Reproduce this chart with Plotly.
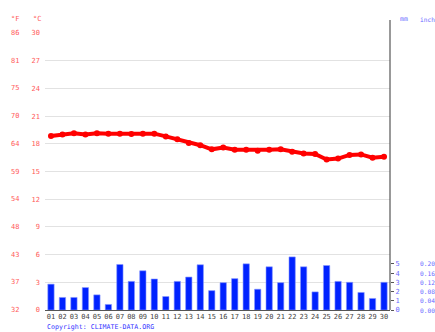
import plotly.graph_objects as go

days = [f"{d:02d}" for d in range(1, 31)]
day_num = list(range(1, 31))
temp_c = [18.85, 19.0, 19.15, 19.0, 19.15, 19.1, 19.1, 19.05, 19.1, 19.1,
          18.8, 18.5, 18.1, 17.85, 17.4, 17.6, 17.35, 17.35, 17.25, 17.35,
          17.4, 17.15, 16.95, 16.9, 16.3, 16.4, 16.8, 16.85, 16.5, 16.6]
precip_mm = [2.8, 1.36, 1.36, 2.43, 1.64, 0.6, 4.93, 3.1, 4.25, 3.36,
             1.46, 3.1, 3.57, 4.9, 2.1, 2.96, 3.4, 5.0, 2.25, 4.68,
             2.96, 5.75, 4.68, 1.96, 4.82, 3.1, 3.0, 1.9, 1.25, 3.0]
c_ticks = [0, 3, 6, 9, 12, 15, 18, 21, 24, 27, 30]
mm_ticks = [0, 1, 2, 3, 4, 5]

W, H = 435, 332
L, R, T, B = 45, 45, 33, 22
PW = W - L - R
FONT = "DejaVu Sans Mono"
RED = "#ff5a5a"
BLUE_LBL = "#6a6aff"

fig = go.Figure()
fig.add_trace(go.Bar(x=day_num, y=precip_mm, yaxis="y2", width=0.55,
                     marker=dict(color="#0022ff", line=dict(color="#8899ff", width=0.6)),
                     showlegend=False))
fig.add_trace(go.Scatter(x=day_num, y=temp_c, mode="lines+markers",
                         line=dict(color="#ff0000", width=4),
                         marker=dict(color="#ff0000", size=6),
                         showlegend=False))

ann = []
for c in c_ticks:
    f = round(c * 9 / 5 + 32)
    ann.append(dict(x=-36 / PW, y=c, xref="paper", yref="y", text=str(f),
                    showarrow=False, xanchor="left", yanchor="middle",
                    font=dict(family=FONT, size=7, color=RED)))
ann.append(dict(x=-36 / PW, y=30, xref="paper", yref="y", yshift=14, text="°F",
                showarrow=False, xanchor="left", yanchor="middle",
                font=dict(family=FONT, size=7, color=RED)))
ann.append(dict(x=-14 / PW, y=30, xref="paper", yref="y", yshift=14, text="°C",
                showarrow=False, xanchor="left", yanchor="middle",
                font=dict(family=FONT, size=7, color=RED)))
for m in mm_ticks:
    ann.append(dict(x=1 + 28 / PW, y=m, xref="paper", yref="y2",
                    text=f"{m / 25.4:.2f}", showarrow=False, xanchor="left", yanchor="middle",
                    font=dict(family=FONT, size=6.2, color=BLUE_LBL)))
ann.append(dict(x=1 + 8 / PW, y=30, xref="paper", yref="y2", yshift=14, text="mm",
                showarrow=False, xanchor="left", yanchor="middle",
                font=dict(family=FONT, size=6.5, color=BLUE_LBL)))
ann.append(dict(x=1 + 28 / PW, y=30, xref="paper", yref="y2", yshift=14, text="inch",
                showarrow=False, xanchor="left", yanchor="middle",
                font=dict(family=FONT, size=6.2, color=BLUE_LBL)))
ann.append(dict(x=0, y=0, xref="paper", yref="paper", yshift=-17, text="Copyright: CLIMATE-DATA.ORG",
                showarrow=False, xanchor="left", yanchor="middle",
                font=dict(family=FONT, size=6.6, color="#3333ff")))

fig.update_layout(
    width=W, height=H, margin=dict(l=L, r=R, t=T, b=B),
    paper_bgcolor="white", plot_bgcolor="white",
    bargap=0.4,
    xaxis=dict(tickmode="array", tickvals=day_num, ticktext=days, range=[0.48, 30.52],
               showgrid=False, zeroline=False, showline=True, linecolor="#555555", linewidth=1,
               ticks="", tickfont=dict(family=FONT, size=7, color="#444444")),
    yaxis=dict(range=[0, 30], tickvals=c_ticks, showgrid=True, gridcolor="#e2e2e2", gridwidth=1,
               zeroline=False, showline=False, ticks="",
               tickfont=dict(family=FONT, size=7, color=RED), ticklabelstandoff=4),
    yaxis2=dict(range=[0, 30], overlaying="y", side="right", tickvals=mm_ticks,
                showgrid=False, zeroline=False, showline=False, ticks="outside", ticklen=3,
                tickcolor="#555555", tickfont=dict(family=FONT, size=7, color=BLUE_LBL)),
    annotations=ann,
    shapes=[dict(type="line", xref="paper", yref="paper", x0=1, x1=1, y0=0, y1=1 + 13 / (H - T - B),
                 line=dict(color="#555555", width=1.2))],
)
fig.write_html("out.html")
